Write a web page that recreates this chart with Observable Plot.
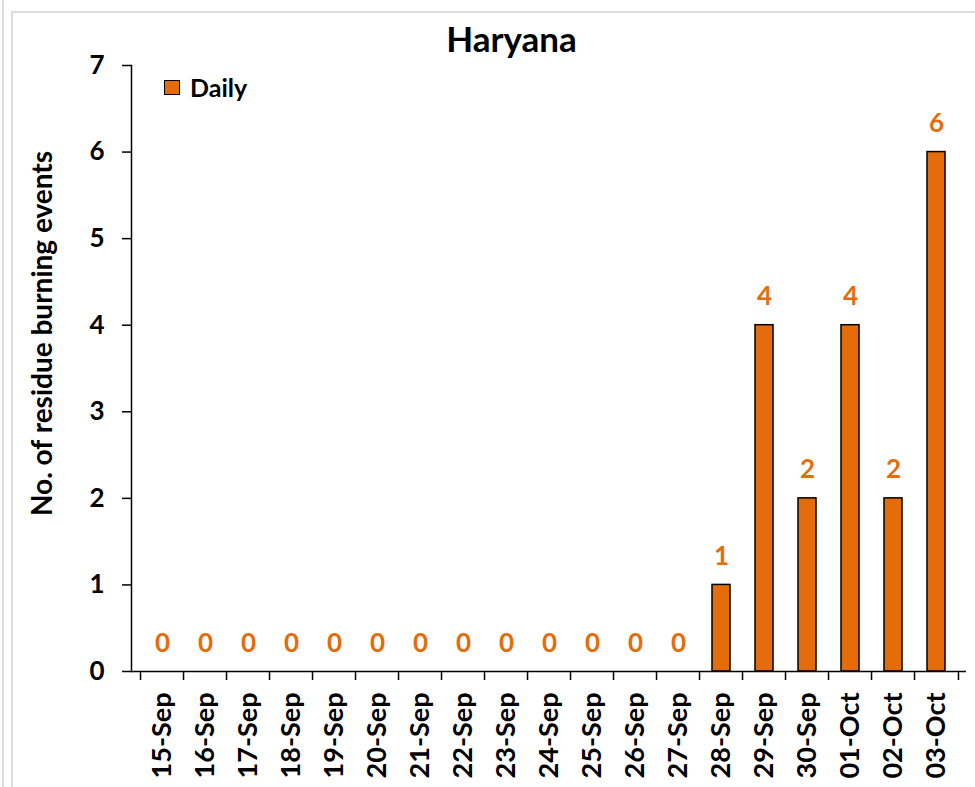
<!DOCTYPE html>
<html>
<head>
<meta charset="utf-8">
<script src="https://cdn.jsdelivr.net/npm/d3@7"></script>
<script src="https://cdn.jsdelivr.net/npm/@observablehq/plot@0.6"></script>
<style>
  html, body { margin: 0; padding: 0; background: #fff; }
  #wrap { position: relative; width: 975px; height: 787px; overflow: hidden; font-family: Lato, "Open Sans", sans-serif; }
  #outer { position: absolute; left: 2px; top: 0; bottom: 0; width: 0; border-left: 2px solid #dcdcdc; }
  #box { position: absolute; left: 11px; top: 11px; right: -5px; bottom: -5px; border-left: 2px solid #dcdcdc; border-top: 2px solid #dcdcdc; }
  #title { position: absolute; left: 0; width: 1023px; top: 17px; text-align: center; font-weight: bold; font-size: 35px; color: #000; }
  #legend { position: absolute; left: 164px; top: 72px; display: flex; align-items: center; font-weight: bold; font-size: 25px; color: #000; }
  #legend .sw { width: 14px; height: 13px; background: #E46C0A; border: 1.5px solid #000; margin-right: 10px; }
  #chart { position: absolute; left: 0; top: 0; }
</style>
</head>
<body>
<div id="wrap">
  <div id="outer"></div>
  <div id="box"></div>
  <div id="chart"></div>
  <div id="title"></div>
  <div id="legend"><span class="sw"></span><span id="legendText"></span></div>
</div>
<script>
const chartTitle = "Haryana";
const seriesName = "Daily";
const yLabel = "No. of residue burning events";
const dates = ["15-Sep","16-Sep","17-Sep","18-Sep","19-Sep","20-Sep","21-Sep","22-Sep","23-Sep","24-Sep","25-Sep","26-Sep","27-Sep","28-Sep","29-Sep","30-Sep","01-Oct","02-Oct","03-Oct"];
const daily = [0,0,0,0,0,0,0,0,0,0,0,0,0,1,4,2,4,2,6];
const yTicks = [0,1,2,3,4,5,6,7];

const orange = "#E46C0A";
const data = dates.map((d, i) => ({date: d, value: daily[i]}));

const W = 975, H = 787;
const mL = 131, mR = 9, mT = 65, mB = 116;
const step = (W - mL - mR) / dates.length;

document.getElementById("title").textContent = chartTitle;
document.getElementById("legendText").textContent = seriesName;

const plot = Plot.plot({
  width: W,
  height: H,
  marginLeft: mL,
  marginRight: mR,
  marginTop: mT,
  marginBottom: mB,
  style: {fontFamily: "Lato, 'Open Sans', sans-serif", fontSize: "24px", fontWeight: "bold", color: "#000", background: "transparent"},
  x: {type: "band", domain: dates, paddingInner: 0.59, paddingOuter: 0.295},
  y: {domain: [0, 7]},
  marks: [
    Plot.barY(data, {x: "date", y: "value", fill: orange, stroke: "#000", strokeWidth: 1.5}),
    Plot.text(data, {x: "date", y: "value", text: d => String(d.value), dy: -20, lineAnchor: "bottom", fill: orange, fontSize: 26, fontWeight: "bold"}),
    Plot.axisY(yTicks, {tickSize: 9, tickPadding: 18, tickFormat: d => String(d), fontSize: 26, fontWeight: "bold", label: null, strokeWidth: 1.5}),
    Plot.frame({anchor: "left", strokeWidth: 1.5}),
    Plot.ruleY([0], {strokeWidth: 1.5}),
    Plot.axisX({tickSize: 9, tickFormat: () => "", dx: -step / 2, label: null, strokeWidth: 1.5}),
    Plot.axisX([dates[dates.length - 1]], {tickSize: 9, tickFormat: () => "", dx: step / 2, label: null, strokeWidth: 1.5}),
    Plot.axisX({tickSize: 0, tickPadding: 21, tickRotate: -90, fontSize: 27, fontWeight: "bold", label: null}),
    Plot.text([yLabel], {frameAnchor: "left", textAnchor: "middle", lineAnchor: "middle", rotate: -90, dx: -88, dy: -35, fontSize: 28, fontWeight: "bold", fill: "#000"})
  ]
});
document.getElementById("chart").appendChild(plot);
</script>
</body>
</html>
